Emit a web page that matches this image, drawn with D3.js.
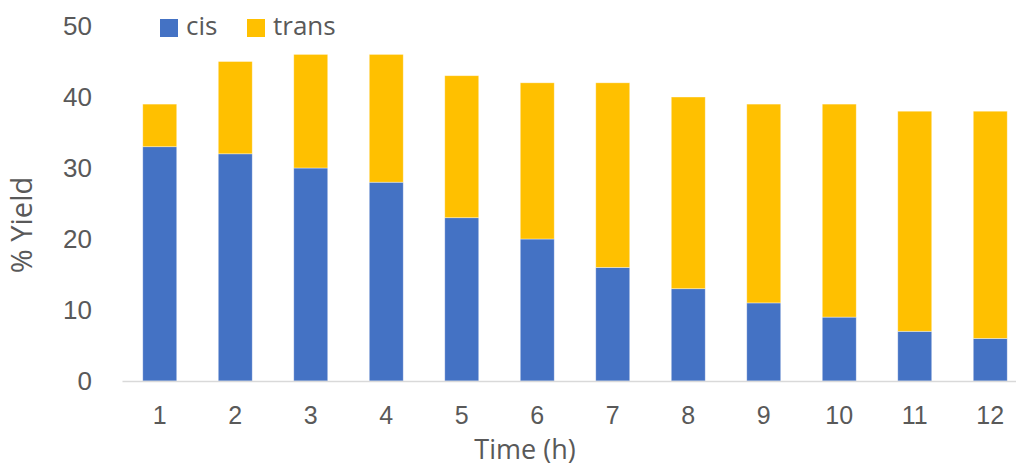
<!DOCTYPE html>
<html>
<head>
<meta charset="utf-8">
<script src="https://cdn.jsdelivr.net/npm/d3@7"></script>
<style>
  html, body { margin: 0; padding: 0; background: #fff; }
  svg { display: block; font-family: "Open Sans", "Noto Sans", sans-serif; }
</style>
</head>
<body>
<svg id="chart" width="1016" height="467"></svg>
<script>
// Reaction time points (hours)
const times = ["1", "2", "3", "4", "5", "6", "7", "8", "9", "10", "11", "12"];
// % yield of each isomer
const cis   = [33, 32, 30, 28, 23, 20, 16, 13, 11, 9, 7, 6];
const trans = [6, 13, 16, 18, 20, 22, 26, 27, 28, 30, 31, 32];
const yTicks = [0, 10, 20, 30, 40, 50];
const seriesNames = ["cis", "trans"];
const colors = { cis: "#4472C4", trans: "#FFC000" };

const svg = d3.select("#chart");
const margin = { left: 122, right: -12, top: 26, bottom: 86 };
const W = 1016, H = 467;

const x = d3.scaleBand()
  .domain(times)
  .range([margin.left, W - margin.right])
  .paddingInner(0.55)
  .paddingOuter(0.275);

const y = d3.scaleLinear()
  .domain([0, 50])
  .range([H - margin.bottom, margin.top]);

const rows = times.map((t, i) => ({ time: t, cis: cis[i], trans: trans[i] }));
const stacked = d3.stack().keys(seriesNames)(rows);

svg.append("g")
  .selectAll("g")
  .data(stacked)
  .join("g")
  .attr("fill", d => colors[d.key])
  .selectAll("rect")
  .data(d => d)
  .join("rect")
  .attr("x", d => x(d.data.time))
  .attr("width", x.bandwidth())
  .attr("y", d => y(d[1]))
  .attr("height", d => y(d[0]) - y(d[1]))
  .attr("stroke", "#ffffff")
  .attr("stroke-opacity", 0.5)
  .attr("stroke-width", 0.75);

// Category axis
const xAxis = svg.append("g")
  .attr("transform", `translate(0,${y(0)})`)
  .call(d3.axisBottom(x).tickSize(0).tickPadding(25));
xAxis.select(".domain").attr("stroke", "#d9d9d9").attr("stroke-width", 1.5);
xAxis.selectAll("text")
  .attr("fill", "#595959")
  .style("font-size", "25px");

// Value axis (labels only)
const yAxis = svg.append("g")
  .attr("transform", `translate(${margin.left},0)`)
  .call(d3.axisLeft(y).tickValues(yTicks).tickSize(0).tickPadding(30));
yAxis.select(".domain").remove();
yAxis.selectAll("text")
  .attr("fill", "#595959")
  .style("font-size", "26px");

// Axis titles
svg.append("text")
  .attr("x", 525)
  .attr("y", 459)
  .attr("text-anchor", "middle")
  .attr("fill", "#595959")
  .style("font-size", "27px")
  .text("Time (h)");

svg.append("text")
  .attr("transform", `translate(24,225) rotate(-90)`)
  .attr("text-anchor", "middle")
  .attr("dominant-baseline", "middle")
  .attr("fill", "#595959")
  .style("font-size", "29px")
  .text("% Yield");

// Legend
const legendX = [160, 247];
const legend = svg.append("g");
seriesNames.forEach((name, i) => {
  legend.append("rect")
    .attr("x", legendX[i])
    .attr("y", 19)
    .attr("width", 18)
    .attr("height", 18)
    .attr("fill", colors[name]);
  legend.append("text")
    .attr("x", legendX[i] + 26)
    .attr("y", 28)
    .attr("dominant-baseline", "middle")
    .attr("fill", "#595959")
    .style("font-size", "26px")
    .text(name);
});
</script>
</body>
</html>
